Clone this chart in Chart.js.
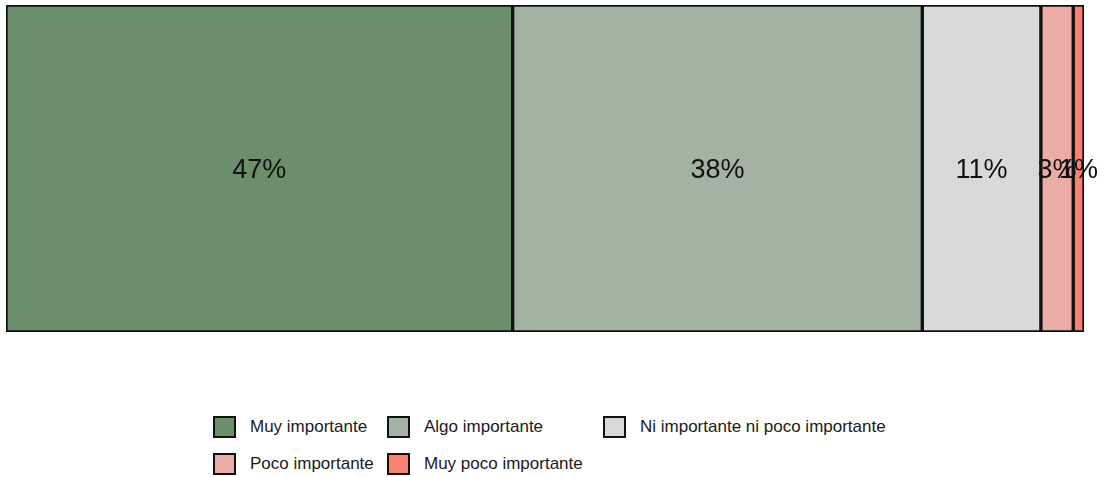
<!DOCTYPE html>
<html>
<head>
<meta charset="utf-8">
<script src="https://cdn.jsdelivr.net/npm/chart.js@4"></script>
<style>
    body { margin: 0; background: #fff; font-family: "Liberation Sans", Arial, sans-serif; }
    #caja { position: relative; width: 1106px; height: 338px; }
    #leyenda {
        position: absolute; left: 213px; top: 416px;
        display: grid; grid-template-columns: 174px 216px auto; grid-auto-rows: 37px;
        font-size: 17px; color: #1a1a1a;
    }
    .item { display: flex; align-items: flex-start; }
    .cuadro { width: 23px; height: 22px; border: 2px solid #111; box-sizing: border-box; margin-right: 14px; }
    .item span { line-height: 22px; }
</style>
</head>
<body>
<div id="caja"><canvas id="grafico"></canvas></div>
<div id="leyenda"></div>
<script>
var categorias = ['Muy importante', 'Algo importante', 'Ni importante ni poco importante', 'Poco importante', 'Muy poco importante'];
var porcentajes = [47, 38, 11, 3, 1];
var colores = ['#6b8e6b', '#a2b3a2', '#d9d9d9', '#ebaca6', '#fa8072'];

// leyenda en html, en filas de tres
var leyenda = document.getElementById('leyenda');
for (var i = 0; i < categorias.length; i++) {
    leyenda.innerHTML += `<div class="item"><div class="cuadro" style="background:${colores[i]}"></div><span>${categorias[i]}</span></div>`;
}

const etiquetas = {
    id: 'etiquetas',
    afterDatasetsDraw(chart) {
        const ctx = chart.ctx;
        ctx.save();
        ctx.font = '27px "Liberation Sans", Arial, sans-serif';
        ctx.fillStyle = '#111';
        ctx.textAlign = 'center';
        ctx.textBaseline = 'middle';
        chart.data.datasets.forEach((ds, i) => {
            const barra = chart.getDatasetMeta(i).data[0];
            const x = (barra.x + barra.base) / 2;
            ctx.fillText(ds.data[0] + '%', x, barra.y + 2);
        });
        ctx.restore();
    }
};

const datasets = categorias.map((c, i) => ({
    label: c,
    data: [porcentajes[i]],
    backgroundColor: colores[i],
    borderColor: '#111',
    borderWidth: 2,
    borderSkipped: false,
    barPercentage: 1,
    categoryPercentage: 1
}));

new Chart(document.getElementById('grafico'), {
    type: 'bar',
    data: { labels: [''], datasets: datasets },
    options: {
        indexAxis: 'y',
        responsive: true,
        maintainAspectRatio: false,
        animation: false,
        layout: { padding: { left: 6, right: 22, top: 5, bottom: 6 } },
        scales: {
            x: { stacked: true, min: 0, max: 100, display: false },
            y: { stacked: true, display: false }
        },
        plugins: { legend: { display: false }, tooltip: { enabled: false } }
    },
    plugins: [etiquetas]
});
</script>
</body>
</html>
